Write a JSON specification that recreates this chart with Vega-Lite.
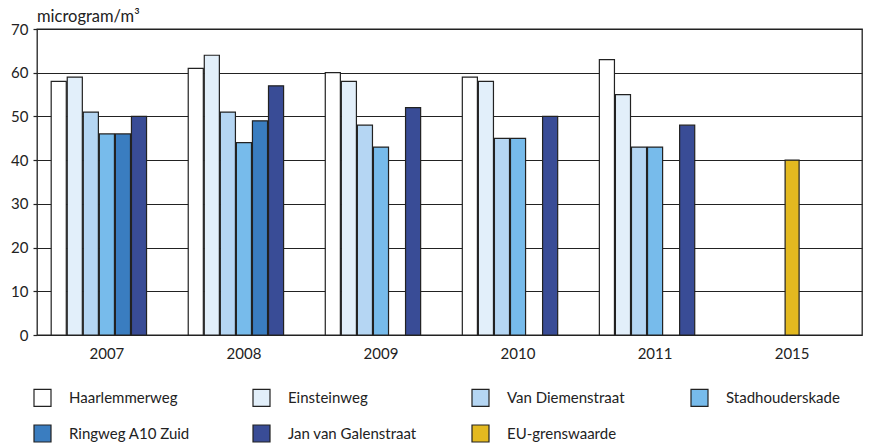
{
  "$schema": "https://vega.github.io/schema/vega-lite/v6.json",
  "width": 825,
  "height": 306,
  "autosize": {"type": "none"},
  "padding": {"left": 37, "top": 29, "right": 17, "bottom": 110},
  "background": "white",
  "title": {
    "text": "microgram/m³",
    "anchor": "start",
    "frame": "group",
    "orient": "top",
    "offset": -3,
    "font": "Lato",
    "fontSize": 16.5,
    "fontWeight": "normal",
    "color": "#222"
  },
  "config": {
    "font": "Lato",
    "view": {"stroke": "#222", "strokeWidth": 1.3},
    "axis": {"labelFont": "Lato", "labelColor": "#222", "labelFontSize": 15},
    "legend": {"labelFont": "Lato", "labelColor": "#222", "labelFontSize": 15}
  },
  "data": {
    "values": [
      {"year": "2007", "series": "Haarlemmerweg", "value": 58},
      {"year": "2007", "series": "Einsteinweg", "value": 59},
      {"year": "2007", "series": "Van Diemenstraat", "value": 51},
      {"year": "2007", "series": "Stadhouderskade", "value": 46},
      {"year": "2007", "series": "Ringweg A10 Zuid", "value": 46},
      {"year": "2007", "series": "Jan van Galenstraat", "value": 50},
      {"year": "2008", "series": "Haarlemmerweg", "value": 61},
      {"year": "2008", "series": "Einsteinweg", "value": 64},
      {"year": "2008", "series": "Van Diemenstraat", "value": 51},
      {"year": "2008", "series": "Stadhouderskade", "value": 44},
      {"year": "2008", "series": "Ringweg A10 Zuid", "value": 49},
      {"year": "2008", "series": "Jan van Galenstraat", "value": 57},
      {"year": "2009", "series": "Haarlemmerweg", "value": 60},
      {"year": "2009", "series": "Einsteinweg", "value": 58},
      {"year": "2009", "series": "Van Diemenstraat", "value": 48},
      {"year": "2009", "series": "Stadhouderskade", "value": 43},
      {"year": "2009", "series": "Jan van Galenstraat", "value": 52},
      {"year": "2010", "series": "Haarlemmerweg", "value": 59},
      {"year": "2010", "series": "Einsteinweg", "value": 58},
      {"year": "2010", "series": "Van Diemenstraat", "value": 45},
      {"year": "2010", "series": "Stadhouderskade", "value": 45},
      {"year": "2010", "series": "Jan van Galenstraat", "value": 50},
      {"year": "2011", "series": "Haarlemmerweg", "value": 63},
      {"year": "2011", "series": "Einsteinweg", "value": 55},
      {"year": "2011", "series": "Van Diemenstraat", "value": 43},
      {"year": "2011", "series": "Stadhouderskade", "value": 43},
      {"year": "2011", "series": "Jan van Galenstraat", "value": 48},
      {"year": "2015", "series": "EU-grenswaarde", "value": 40}
    ]
  },
  "encoding": {
    "x": {
      "field": "year",
      "type": "ordinal",
      "scale": {"domain": ["2007", "2008", "2009", "2010", "2011", "2015"], "paddingInner": 0.18, "paddingOuter": 0.1},
      "axis": {"title": null, "labelAngle": 0, "ticks": false, "domain": false, "labelPadding": 11}
    },
    "y": {
      "field": "value",
      "type": "quantitative",
      "scale": {"domain": [0, 70], "nice": false},
      "axis": {
        "title": null,
        "values": [0, 10, 20, 30, 40, 50, 60, 70],
        "grid": true,
        "gridColor": "#222",
        "gridWidth": 1.2,
        "gridOpacity": 1,
        "domain": false,
        "ticks": true,
        "tickSize": 4,
        "tickColor": "#222",
        "tickWidth": 1.2,
        "labelPadding": 5
      }
    },
    "color": {
      "field": "series",
      "type": "nominal",
      "scale": {
        "domain": ["Haarlemmerweg", "Einsteinweg", "Van Diemenstraat", "Stadhouderskade", "Ringweg A10 Zuid", "Jan van Galenstraat", "EU-grenswaarde"],
        "range": ["#ffffff", "#e2effa", "#b5d6f3", "#77bbeb", "#3a7dc0", "#394c96", "#e3b920"]
      },
      "legend": {
        "title": null,
        "orient": "none",
        "legendX": -4,
        "legendY": 359,
        "direction": "horizontal",
        "columns": 4,
        "gridAlign": "all",
        "columnPadding": 52,
        "rowPadding": 13,
        "padding": 0,
        "symbolType": "square",
        "symbolSize": 289,
        "symbolStrokeColor": "#222",
        "symbolStrokeWidth": 1.2,
        "symbolOpacity": 1,
        "labelOffset": 17
      }
    }
  },
  "layer": [
    {
      "transform": [{"filter": "datum.series !== 'EU-grenswaarde'"}],
      "mark": {"type": "bar", "stroke": "#222", "strokeWidth": 1.2},
      "encoding": {
        "xOffset": {
          "field": "series",
          "type": "nominal",
          "scale": {
            "domain": ["Haarlemmerweg", "Einsteinweg", "Van Diemenstraat", "Stadhouderskade", "Ringweg A10 Zuid", "Jan van Galenstraat", "EU-grenswaarde"],
            "paddingInner": 0.06,
            "paddingOuter": 0.03
          }
        }
      }
    },
    {
      "transform": [{"filter": "datum.series === 'EU-grenswaarde'"}],
      "mark": {"type": "bar", "stroke": "#222", "strokeWidth": 1.2, "size": 14},
      "encoding": {}
    }
  ]
}
